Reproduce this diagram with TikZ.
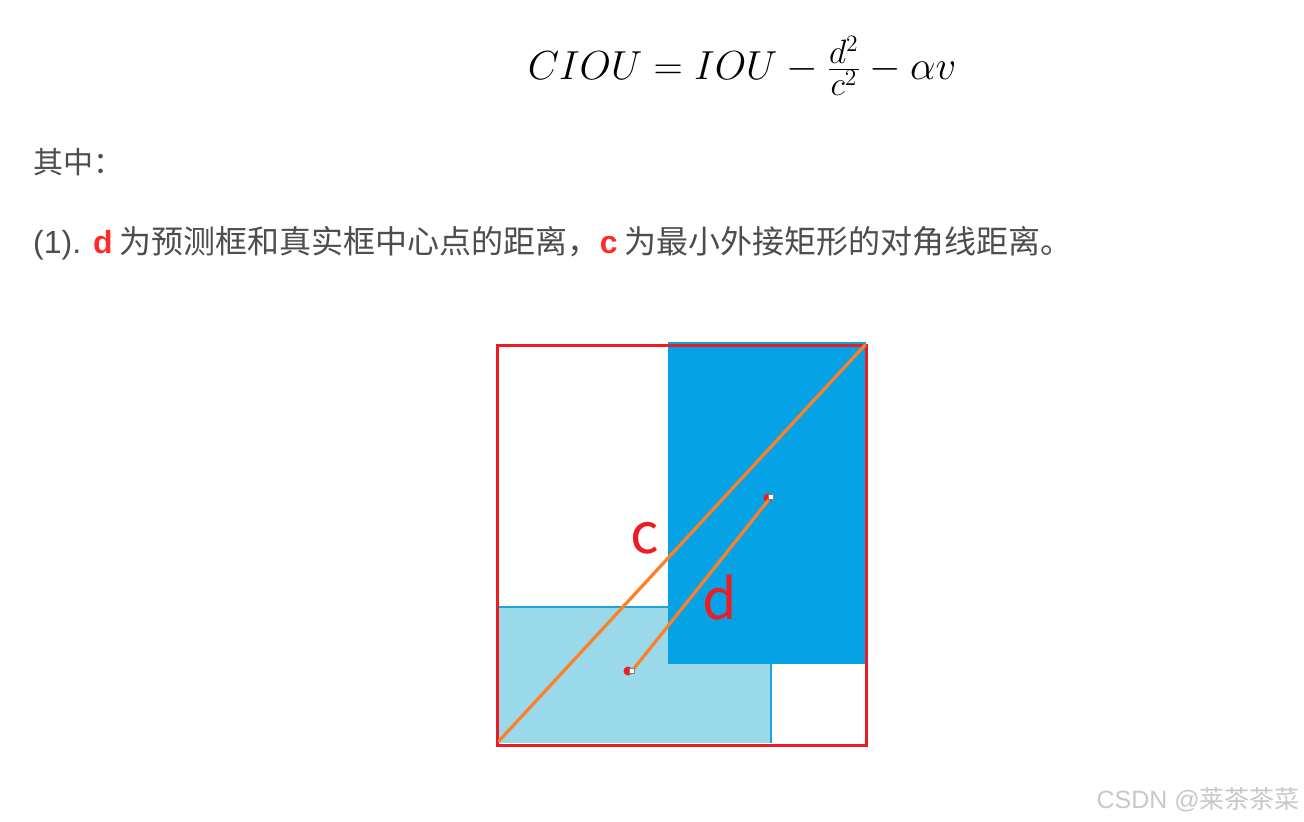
\documentclass[tikz,border=0pt]{standalone}
\usepackage{fontspec}
\setmainfont{Latin Modern Roman}
\newfontfamily\cjk{Noto Sans CJK SC}
\newfontfamily\lsans{Liberation Sans}
\definecolor{txtgray}{HTML}{4D4D4D}
\definecolor{boxred}{HTML}{EC1C24}
\definecolor{darkblue}{HTML}{05A3E6}
\definecolor{lightblue}{HTML}{99D9EA}
\definecolor{edgeblue}{HTML}{1CA3E0}
\definecolor{lineorange}{HTML}{FF7F27}
\definecolor{hlred}{HTML}{FF2A2A}
\definecolor{wmgray}{HTML}{C8C8C8}
\begin{document}
\begin{tikzpicture}[x=1pt,y=-1pt,
  para/.style={anchor=west,inner sep=0pt,text=txtgray,font=\fontsize{32}{34}\selectfont\cjk},
  lbl/.style={text=boxred,inner sep=0pt,font=\fontsize{56}{60}\selectfont\cjk},
  diag/.style={draw=lineorange,line width=3.2pt,line cap=round},
  endpt/.style={fill=boxred,circle,inner sep=0pt,minimum size=9pt},
  endsq/.style={fill=white,draw=gray,line width=0.6pt,inner sep=0pt,minimum size=5pt}]
\useasboundingbox (0,0) rectangle (1304,822);
\fill[white] (0,0) rectangle (1304,822);
% formula
\node[inner sep=0pt,scale=1.63] (formula) at (742,66) {\fontsize{30}{36}\selectfont $CIOU = IOU - \frac{d^2}{c^2} - \alpha v$};
% text
\node[para,font=\fontsize{30}{34}\selectfont\cjk] (t1) at (33,162) {其中：};
\node[para] (t2) at (33,243) {{\lsans (1). }{\lsans\bfseries\color{hlred}d} 为预测框和真实框中心点的距离，{\lsans\bfseries\color{hlred}c} 为最小外接矩形的对角线距离。};
% boxes
\fill[lightblue] (497,607) rectangle (771,743);
\draw[edgeblue,line width=2.2pt] (497,607) -- (771,607) -- (771,743);
\fill[darkblue] (668,342) rectangle (866,664);
\draw[boxred,line width=3pt] (497,345) rectangle (866,745);
% points
\coordinate (bl) at (499,741);
\coordinate (tr) at (865,345);
\node[endpt] (p1r) at (628,671) {};
\node[endpt] (p2r) at (768,498) {};
\node[endsq] (p1) at (632,671) {};
\node[endsq] (p2) at (771,497) {};
\draw[diag] (bl) -- (tr);
\draw[diag] (p1) -- (p2);
\node[endsq] at (p1) {};
\node[endsq] at (p2) {};
\node[lbl] (c) at (645,538) {c};
\node[lbl] (d) at (720,598) {d};
% watermark
\node[anchor=east,inner sep=0pt,text=wmgray,font=\fontsize{25}{28}\selectfont\cjk] (wm) at (1300,800) {{\lsans CSDN @}莱茶茶菜};
\end{tikzpicture}
\end{document}
